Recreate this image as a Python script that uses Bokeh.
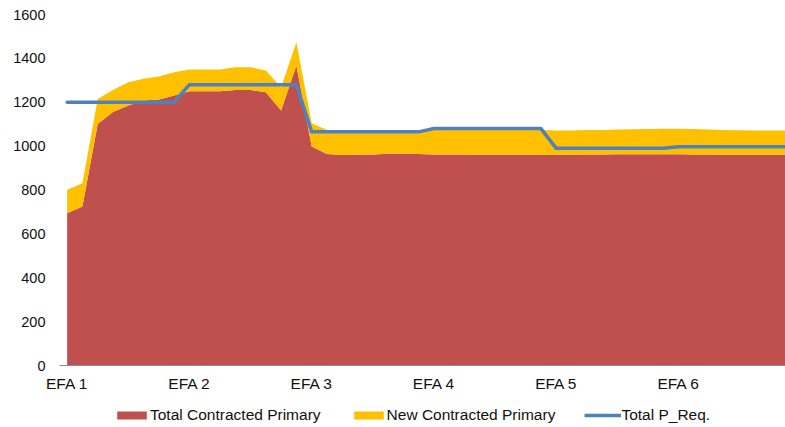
from bokeh.plotting import figure
from bokeh.layouts import column
from bokeh.models import ColumnDataSource, Range1d, FixedTicker, Legend, LegendItem
from bokeh.embed import file_html
from bokeh.resources import INLINE

# 48 periods: 6 EFA blocks of 8 settlement points each
period = list(range(48))

total_contracted = [694, 725, 1101, 1155, 1185, 1208, 1212, 1231,
                    1250, 1250, 1250, 1256, 1256, 1246, 1162, 1367,
                    998, 964, 960, 961, 962, 965, 965, 964,
                    962, 962, 962, 961, 961, 961, 961, 961,
                    961, 961, 962, 962, 963, 963, 963, 963,
                    963, 962, 962, 961, 961, 961, 961, 961]

new_contracted = [107, 106, 114, 101, 106, 99, 105, 106,
                  99, 99, 99, 104, 104, 99, 106, 107,
                  106, 110, 108, 108, 109, 108, 106, 106,
                  113, 113, 113, 113, 113, 113, 113, 113,
                  110, 110, 111, 112, 113, 114, 115, 116,
                  116, 116, 114, 112, 111, 110, 110, 110]

total_p_req = [1200, 1200, 1200, 1200, 1200, 1200, 1200, 1200,
               1280, 1280, 1280, 1280, 1280, 1280, 1280, 1280,
               1065, 1065, 1065, 1065, 1065, 1065, 1065, 1065,
               1080, 1080, 1080, 1080, 1080, 1080, 1080, 1080,
               990, 990, 990, 990, 990, 990, 990, 990,
               997, 997, 997, 997, 997, 997, 997, 997]

tick_positions = [0, 8, 16, 24, 32, 40]
tick_labels = ["EFA 1", "EFA 2", "EFA 3", "EFA 4", "EFA 5", "EFA 6"]
y_ticks = [0, 200, 400, 600, 800, 1000, 1200, 1400, 1600]
series_names = ["Total Contracted Primary", "New Contracted Primary", "Total P_Req."]

RED = "#C0504D"
YELLOW = "#FFC000"
BLUE = "#4F81BD"
FONT = "Liberation Sans"
TXT = "#111111"

source = ColumnDataSource(dict(x=period, contracted=total_contracted,
                               new=new_contracted, preq=total_p_req))

# ---- main chart ----
p = figure(width=785, height=395, output_backend="svg", toolbar_location=None,
           x_range=Range1d(-0.5, 47), y_range=Range1d(0, 1600))
p.min_border_left = 59
p.min_border_right = 0
p.min_border_top = 14
p.min_border_bottom = 30
p.outline_line_color = None
p.background_fill_color = "white"
p.border_fill_color = "white"
p.xgrid.visible = False
p.ygrid.visible = False

p.varea_stack(["contracted", "new"], x="x", color=[RED, YELLOW], source=source)
p.line("x", "preq", source=source, line_color=BLUE, line_width=3.5,
       line_cap="round", line_join="round")

p.yaxis.ticker = FixedTicker(ticks=y_ticks)
p.yaxis.axis_line_color = None
p.yaxis.major_tick_line_color = None
p.yaxis.minor_tick_line_color = None
p.yaxis.major_tick_out = 0
p.yaxis.major_tick_in = 0
p.yaxis.major_label_standoff = 14
p.yaxis.major_label_text_font = FONT
p.yaxis.major_label_text_font_size = "14.5px"
p.yaxis.major_label_text_color = TXT

p.xaxis.ticker = FixedTicker(ticks=tick_positions)
p.xaxis.major_label_overrides = {t: l for t, l in zip(tick_positions, tick_labels)}
p.xaxis.axis_line_color = "#8C8C8C"
p.xaxis.axis_line_width = 1
p.xaxis.major_tick_line_color = None
p.xaxis.minor_tick_line_color = None
p.xaxis.major_tick_out = 0
p.xaxis.major_tick_in = 0
p.xaxis.major_label_standoff = 9
p.xaxis.major_label_text_font = FONT
p.xaxis.major_label_text_font_size = "15.5px"
p.xaxis.major_label_text_color = TXT

# ---- legend strip (same series, drawn outside its visible range so only the key shows) ----
lp = figure(width=785, height=32, output_backend="svg", toolbar_location=None,
            x_range=Range1d(1000, 1001), y_range=Range1d(0, 1),
            x_axis_location=None, y_axis_location=None)
lp.min_border = 0
lp.outline_line_color = None
lp.xgrid.visible = False
lp.ygrid.visible = False
lp.background_fill_color = "white"
lp.border_fill_color = "white"
r_red = lp.varea(x="x", y1="new", y2="contracted", color=RED, source=source)
r_yel = lp.varea(x="x", y1="new", y2="contracted", color=YELLOW, source=source)
r_blue = lp.line(x="x", y="preq", line_color=BLUE, line_width=3.5, source=source)

legend = Legend(items=[
    LegendItem(label=series_names[0], renderers=[r_red]),
    LegendItem(label=series_names[1], renderers=[r_yel]),
    LegendItem(label=series_names[2], renderers=[r_blue]),
], orientation="horizontal", location=(54, 3))
legend.glyph_width = 37
legend.glyph_height = 10
legend.label_standoff = 0
legend.spacing = 29
legend.padding = 0
legend.margin = 0
legend.border_line_color = None
legend.background_fill_alpha = 0
legend.label_text_font = FONT
legend.label_text_font_size = "15.5px"
legend.label_text_color = TXT
legend.label_height = 14
lp.add_layout(legend, "center")

layout = column(p, lp, spacing=0)
open("out.html", "w").write(file_html(layout, INLINE))
